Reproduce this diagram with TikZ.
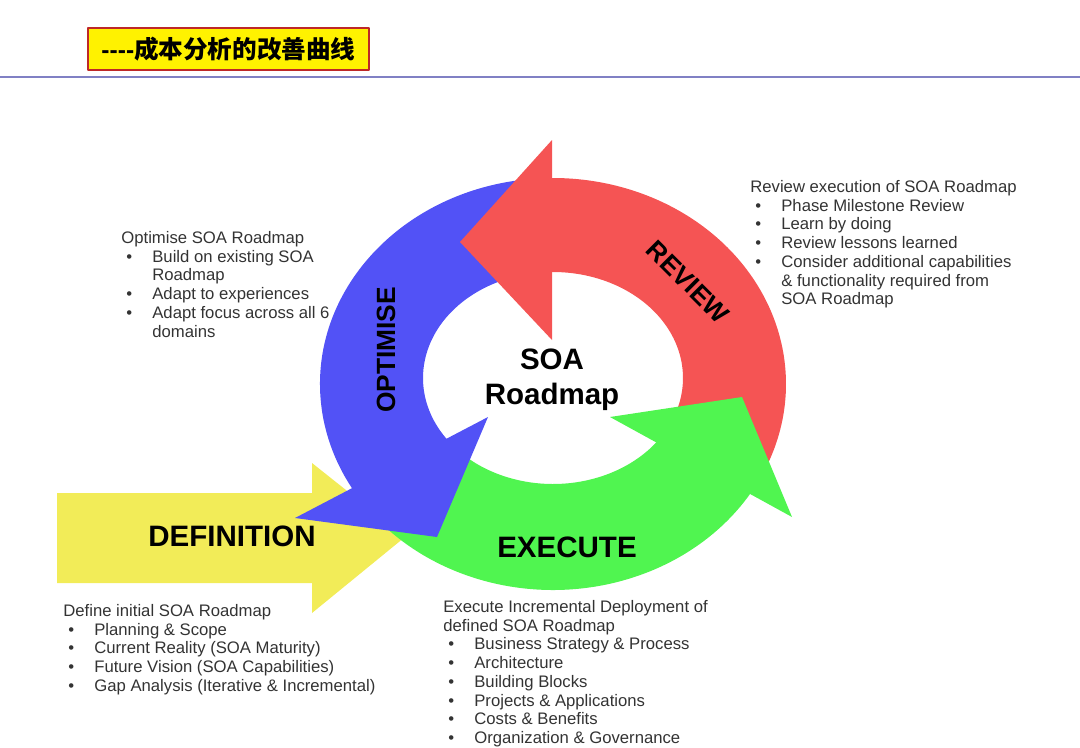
\documentclass[tikz,border=0pt]{standalone}
\usepackage{fontspec}
\setmainfont{Liberation Sans}
\newfontfamily\cjk{Noto Sans CJK SC}
\usetikzlibrary{calc}

\definecolor{soablue}{RGB}{82,82,246}
\definecolor{soared}{RGB}{245,84,84}
\definecolor{soagreen}{RGB}{80,245,80}
\definecolor{soayellow}{RGB}{242,236,88}
\definecolor{rulecol}{RGB}{128,128,196}
\definecolor{titleframe}{RGB}{190,40,40}

\newcommand\bul{\hspace*{0.1cm}\makebox[0.52cm][l]{\textbullet}}
\newcommand\cont{\hspace*{0.62cm}}

\begin{document}
\begin{tikzpicture}[x=0.02cm, y=0.02cm, line join=round,
    titlebox/.style={fill=yellow, draw=titleframe, line width=0.9pt, inner sep=0pt,
      minimum width=5.62cm, minimum height=0.84cm, font=\fontsize{14}{16}\selectfont},
    phase/.style={inner sep=0pt, font=\fontsize{16.8}{18}\selectfont\bfseries},
    ringtext/.style={phase, font=\fontsize{15}{16}\selectfont\bfseries},
    notes/.style={anchor=north west, align=left, inner sep=0pt, text=black!80,
      font=\fontsize{9.5}{10.66}\selectfont}]
  \useasboundingbox (0,0) rectangle (1080,-748);

  % Titel
  \node[titlebox] (title) at (228.5,-49) {\textbf{-{}-{}-{}-}{\cjk\bfseries 成本分析的改善曲线}};
  \draw[rulecol, line width=1.2pt] (0,-77) -- (1080,-77);

  % Ring (outer and inner ellipse)
  \def\cxo{553} \def\cyo{-384} \def\rxo{233} \def\ryo{206}
  \def\cxi{553} \def\cyi{-378} \def\rxi{130} \def\ryi{106}
  \def\band#1#2#3{%
    \fill[#1] ($(\cxo,\cyo)+({#2}:{\rxo} and {\ryo})$)
      arc[start angle=#2, end angle=#3, x radius=\rxo, y radius=\ryo]
      -- ($(\cxi,\cyi)+({#3}:{\rxi} and {\ryi})$)
      arc[start angle=#3, end angle=#2, x radius=\rxi, y radius=\ryi] -- cycle;}

  % Definition arrow
  \fill[soayellow] (57,-493) -- (312,-493) -- (312,-463) -- (405,-537)
    -- (312,-613) -- (312,-583) -- (57,-583) -- cycle;

  % Bodies
  \band{soared}{91}{-23}
  \band{soablue}{97}{218}
  \band{soagreen}{220}{333}

  % Heads
  \fill[soared] (552,-140) -- (460,-242) -- (552,-340) -- cycle;
  \fill[soablue] (295,-518) -- (488,-417) -- (437,-537) -- cycle;
  \fill[soagreen] (610,-417) -- (742,-397) -- (792,-517) -- cycle;

  % Labels
  \node[ringtext, rotate=90] (optimise) at (386,-350) {OPTIMISE};
  \node[ringtext, rotate=-45] (review) at (688,-282) {REVIEW};
  \node[phase] (definition) at (232,-536) {DEFINITION};
  \node[phase] (execute) at (567,-547) {EXECUTE};
  \node[phase, align=center, font=\fontsize{16.8}{20}\selectfont\bfseries] (hub) at (552,-380) {SOA\\Roadmap};

  % Notes
  \node[notes] (optnotes) at (121,-231) {Optimise SOA Roadmap\\
    \bul Build on existing SOA\\ \cont Roadmap\\
    \bul Adapt to experiences\\
    \bul Adapt focus across all 6\\ \cont domains};
  \node[notes] (revnotes) at (750,-180) {Review execution of SOA Roadmap\\
    \bul Phase Milestone Review\\
    \bul Learn by doing\\
    \bul Review lessons learned\\
    \bul Consider additional capabilities\\ \cont \& functionality required from\\ \cont SOA Roadmap};
  \node[notes] (defnotes) at (63,-604) {Define initial SOA Roadmap\\
    \bul Planning \& Scope\\
    \bul Current Reality (SOA Maturity)\\
    \bul Future Vision (SOA Capabilities)\\
    \bul Gap Analysis (Iterative \& Incremental)};
  \node[notes] (exenotes) at (443,-600) {Execute Incremental Deployment of\\ defined SOA Roadmap\\
    \bul Business Strategy \& Process\\
    \bul Architecture\\
    \bul Building Blocks\\
    \bul Projects \& Applications\\
    \bul Costs \& Benefits\\
    \bul Organization \& Governance};
\end{tikzpicture}
\end{document}
